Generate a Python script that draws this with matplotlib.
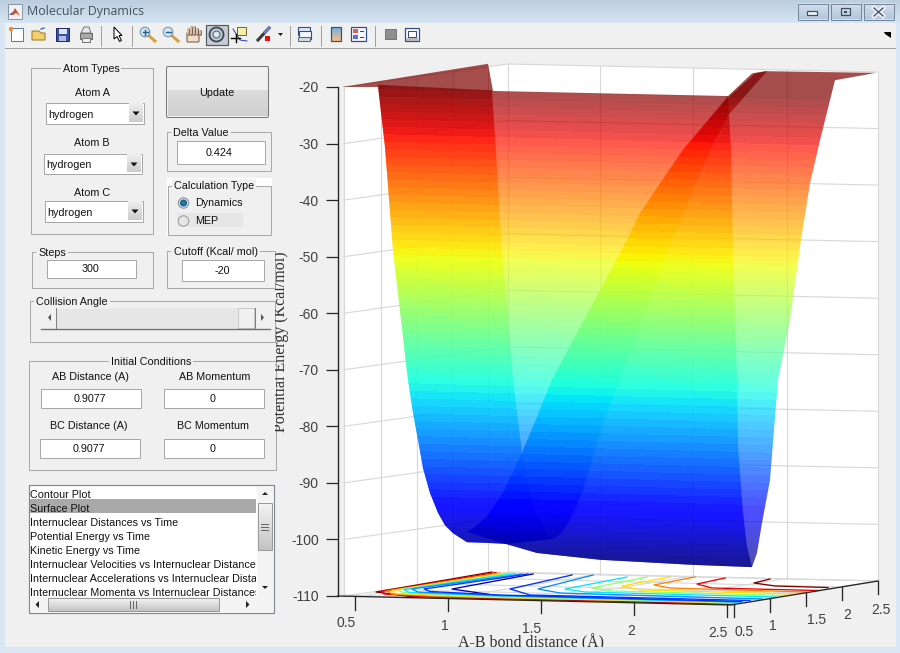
import numpy as np
import matplotlib
matplotlib.use("Agg")
import matplotlib.pyplot as plt
from matplotlib.patches import Rectangle, Polygon, Circle, FancyBboxPatch

plt.rcParams['axes.unicode_minus'] = False
plt.rcParams['font.family'] = ['Liberation Sans', 'DejaVu Sans']

# ---------- chart values ----------
energy_ticks = [-20, -30, -40, -50, -60, -70, -80, -90, -100, -110]
ab_tick_labels = ['0.5', '1', '1.5', '2', '2.5']
bc_tick_labels = ['0.5', '1', '1.5', '2', '2.5']
ab_tick_x = [355, 448, 541, 634, 727]
ab_tick_row = [597, 598.5, 600.5, 602, 604]
ab_label_xy = [(346, 623), (445, 626), (532, 629), (631, 631), (718, 633)]
bc_tick_x = [734, 770, 806, 842, 878]
bc_tick_row = [604, 599, 593, 587, 581]
bc_label_xy = [(744, 632), (773, 626), (817, 620), (847, 615), (881, 610)]

# Surface outlines: screen x and energy (kcal/mol)
rear_x = [378, 385, 393, 408, 413, 418, 423, 430, 438, 445, 453, 467, 485, 507, 537, 600, 693, 752, 757, 762, 770, 778, 790, 801, 810, 820, 835, 876, 765, 752, 728, 493, 488, 342]
rear_e = [-20, -30.6, -48.8, -71.8, -77.6, -82.4, -87.4, -91.8, -95.3, -97.5, -98.9, -100.5, -100.6, -100.8, -102.4, -103.6, -104.5, -104.9, -102.4, -97.1, -89.5, -71.8, -61.2, -47.1, -37, -29.4, -18.8, -17.5, -17.2, -17.6, -21.6, -20.7, -15.9, -20]
left_wall_x = [378, 385, 393, 408, 413, 418, 423, 430, 438, 445, 453, 467, 485, 507, 550, 533, 522, 513, 502, 497, 492]
left_wall_e = [-19.6, -30.6, -48.8, -71.8, -77.6, -82.4, -87.4, -91.8, -95.3, -97.5, -98.9, -100.5, -100.6, -100.8, -99.9, -94.3, -84.7, -71.8, -48.8, -34.2, -20.6]
right_wall_x = [728, 731, 733, 737, 738, 740, 743, 747, 752, 693, 600, 537, 507, 468, 487, 503, 522, 537, 552, 627, 640, 683]
right_wall_e = [-21.6, -31.1, -48.8, -71.8, -83.7, -88.3, -95.3, -101.3, -104.9, -104.5, -103.6, -102.4, -100.9, -98.7, -96, -91.8, -84.7, -78.4, -71.8, -47.1, -42.3, -31.1]
ridge_x = [468, 487, 503, 522, 537, 552, 627, 640, 683, 728, 755, 767, 728, 710, 668, 620, 603, 583, 570, 560, 553, 507]
ridge_e = [-98.7, -96, -91.8, -84.7, -78.4, -71.8, -47.1, -42.3, -31.1, -21.9, -17.6, -17.2, -25, -31.1, -48.8, -71.8, -79.4, -91.3, -96.6, -99.2, -99.9, -100.8]

# Floor contours: colour and (x, row) traces
contour_colors = ['#800000', '#ee0000', '#ff8000', '#ffe000', '#90ff70', '#00e8ff', '#0090ff', '#0030ff', '#0000b0',
                  '#800000', '#ee0000', '#ff8000', '#ffe000', '#90ff70', '#00e8ff', '#0090ff', '#0030ff']
contour_traces = [
    [(770, 579), (754, 583), (775, 586), (828, 587.5)],
    [(725, 578), (697, 584), (712, 588), (818, 590.5)],
    [(695, 577), (654, 585), (670, 588), (807, 592)],
    [(670, 577), (622, 586), (640, 590), (793, 594)],
    [(647, 577), (592, 588), (612, 591), (785, 595.5)],
    [(627, 577), (565, 589), (585, 592), (775, 597)],
    [(593, 575), (538, 589), (560, 593), (762, 599)],
    [(572, 575), (510, 589), (530, 595), (750, 600.5)],
    [(533, 574), (452, 589), (500, 596), (738, 602)],
    [(492, 572), (376, 592), (410, 596.5), (470, 598), (600, 601), (735, 604.5)],
    [(496, 572.5), (381, 591.5), (384, 594), (450, 598), (640, 601.5), (735, 604)],
    [(500, 573), (387, 591), (392, 594), (440, 596.5), (660, 601), (732, 603.5)],
    [(505, 573), (392, 590.5), (396, 593.5), (480, 597), (735, 603)],
    [(510, 573.5), (398, 590), (403, 592.5), (490, 596.5), (738, 602.5)],
    [(515, 573.5), (404, 589.5), (409, 592.5), (500, 596), (738, 602)],
    [(522, 574), (412, 589), (418, 592), (500, 595.5), (740, 602)],
    [(528, 574), (424, 589), (430, 591.5), (500, 595), (742, 601.5)],
]

# ---------- interface texts ----------
list_items = ['Contour Plot', 'Surface Plot', 'Internuclear Distances vs Time',
              'Potential Energy vs Time', 'Kinetic Energy vs Time',
              'Internuclear Velocities vs Internuclear Distances',
              'Internuclear Accelerations vs Internuclear Distances',
              'Internuclear Momenta vs Internuclear Distances']

W, H = 900, 653
BG = '#f0f0f0'
EDGE = '#a8a8a8'
FS = 7.75
fig = plt.figure(figsize=(W / 100, H / 100), dpi=100, facecolor=BG)
gui = fig.add_axes([0, 0, 1, 1], zorder=1)
gui.set_xlim(0, W)
gui.set_ylim(H, 0)
gui.axis('off')
PX = 0.72


def rect(x0, y0, x1, y1, fc='none', ec='none', lw=1.0, z=2, ax=gui):
    p = Rectangle((x0, y0), x1 - x0, y1 - y0, facecolor=fc, edgecolor=ec, linewidth=lw * PX, zorder=z)
    ax.add_patch(p)
    return p


def txt(x, y, s, ha='center', fs=FS, color='#111111', z=6, **kw):
    return gui.text(x, y, s, ha=ha, va='center', fontsize=fs, color=color, zorder=z, **kw)


def grad(x0, y0, x1, y1, c0, c1, z=2, n=32):
    c0 = np.array(matplotlib.colors.to_rgb(c0))
    c1 = np.array(matplotlib.colors.to_rgb(c1))
    t = np.linspace(0, 1, n)[:, None, None]
    im = t * c1[None, None, :] + (1 - t) * c0[None, None, :]
    gui.imshow(im, extent=(x0, x1, y1, y0), aspect='auto', zorder=z, interpolation='bilinear')


def panel(x0, y0, x1, y1, title, tx, center=False, fill=False):
    rect(x0, y0, x1, y1, ec=EDGE, fc=BG if fill else 'none', z=3)
    gui.text(tx, y0 + 1, title, ha='center' if center else 'left', va='center', fontsize=FS, color='#111111',
             zorder=5, bbox=dict(facecolor=BG, edgecolor='none', pad=1.5))


def edit(x0, y0, x1, y1, s, cx):
    rect(x0, y0, x1, y1, fc='white', ec=EDGE, z=4)
    txt(cx, (y0 + y1) / 2 + .5, s)


def popup(x0, y0, x1, y1, s):
    rect(x0, y0, x1, y1, fc='white', ec=EDGE, z=4)
    grad(x1 - 15, y0 + 1, x1 - 1, y1 - 1, '#f0f0f0', '#cccccc', z=4.5)
    gui.add_patch(Polygon([(x1 - 11, y0 + 9), (x1 - 4, y0 + 9), (x1 - 7.5, y0 + 13)], fc='#111111', ec='none', zorder=5))
    txt(x0 + 2.5, (y0 + y1) / 2 + 1.5, s, ha='left')


# window frame ----------------------------------------------------------
rect(0, 0, W, H, fc='#d9e6f3', z=0)
grad(0, 0, W, 23, '#bccddd', '#d7e5f3', z=0.5)
rect(5, 23, 896, 647, fc=BG, z=1)
rect(5, 48, 896, 49, fc='#a3a3a3', z=1.2)
rect(8, 4, 22, 19, fc='#eef2f7', ec='#8a97a5', z=2)
gui.add_patch(Polygon([(9, 15), (13, 12), (15, 8), (20, 16), (16, 13), (13, 15)], fc='#d94a1e', ec='none', zorder=3))
gui.add_patch(Polygon([(9, 15), (13, 12), (14, 14)], fc='#2f6fc0', ec='none', zorder=3.1))
txt(27, 12, 'Molecular Dynamics', ha='left', fs=8.9, color='#45525f', family=['Open Sans', 'DejaVu Sans'])
for x0, x1 in [(797.5, 827.5), (830.5, 860.5), (863.5, 893.5)]:
    grad(x0, 3.5, x1, 19.5, '#d3e0ee', '#b4c6dc', z=2)
    rect(x0, 3.5, x1, 19.5, ec='#76879b', z=3)
rect(807, 11, 817, 15, fc='#eef3f8', ec='#3f4d5f', lw=1.2, z=4)
rect(841, 8, 850, 15, fc='none', ec='#3f4d5f', lw=1.2, z=4)
rect(844, 10.5, 847, 12.5, fc='#3f4d5f', z=4)
gui.plot([874, 883], [8, 16], color='#f4f6f9', lw=3.2, zorder=4)
gui.plot([883, 874], [8, 16], color='#f4f6f9', lw=3.2, zorder=4)
gui.plot([874, 883], [8, 16], color='#45536a', lw=1, zorder=5)
gui.plot([883, 874], [8, 16], color='#45536a', lw=1, zorder=5)

# toolbar ---------------------------------------------------------------
for xs in [100.5, 131.5, 289.5, 320.5, 374.5]:
    gui.plot([xs, xs], [26, 46], color='#a0a0a0', lw=PX, zorder=3)
rect(205.5, 24.5, 227.5, 44.5, fc='#c7ccd2', ec='#55595e', lw=1.2, z=2)
# new
rect(11, 28, 23, 41, fc='white', ec='#4f7fb0', z=3)
gui.add_patch(Circle((11, 29), 2.2, fc='#f08a30', ec='none', zorder=4))
# open
gui.add_patch(Polygon([(32, 40), (32, 31), (39, 31), (41, 33), (45, 33), (45, 40)], fc='#f0cf6c', ec='#9a7a2a', lw=PX, zorder=3))
gui.plot([41, 44], [29, 28], color='#3a6fb0', lw=1, zorder=4)
# save
rect(56, 28, 69, 41, fc='#3c50a8', ec='#1f2c70', z=3)
rect(58.5, 28.5, 66.5, 33.5, fc='#dfe5f5', z=4)
rect(59, 36, 66, 41, fc='#b4bede', z=4)
# print
rect(80, 33, 92, 39, fc='#a8a8a8', ec='#666666', z=3)
gui.add_patch(Polygon([(81, 33), (84, 27), (89, 27), (91, 33)], fc='#e8e8e8', ec='#777777', lw=PX, zorder=3.1))
rect(82, 38, 90, 42, fc='#efefef', ec='#777777', z=4)
# pointer
gui.add_patch(Polygon([(114, 27), (114, 39), (117, 36.5), (119.5, 41.5), (121.5, 40.5), (119, 35.5), (122, 35.5)], fc='white', ec='black', lw=1 * PX, zorder=3))
# zoom in, out
for cx, sign in [(145, '+'), (168, '-')]:
    gui.plot([cx + 3, cx + 10], [35, 41], color='#d8a040', lw=2.2, zorder=3)
    gui.add_patch(Circle((cx, 32), 4.8, fc='#cfe6f6', ec='#6f8fa8', lw=PX, zorder=4))
    gui.plot([cx - 2.5, cx + 2.5], [32, 32], color='#2a5d90', lw=1, zorder=5)
    if sign == '+':
        gui.plot([cx, cx], [29.5, 34.5], color='#2a5d90', lw=1, zorder=5)
# hand
gui.add_patch(FancyBboxPatch((188, 33), 10, 8, boxstyle='round,pad=1', fc='#f6dcc4', ec='#6a5a4a', lw=PX, zorder=3))
for fx, top in [(188, 29), (191, 27), (194, 27), (197, 29), (200, 31)]:
    gui.plot([fx, fx], [34, top], color='#6a5a4a', lw=2, zorder=3.5, solid_capstyle='round')
    gui.plot([fx, fx], [34, top], color='#f6dcc4', lw=1.1, zorder=3.6, solid_capstyle='round')
# rotate
gui.add_patch(Circle((216.5, 34.5), 7, fc='none', ec='#3a4a5a', lw=1.3, zorder=4))
gui.add_patch(Circle((216.5, 34.5), 3.5, fc='#dfe6ee', ec='#3a6080', lw=PX, zorder=4))
# data cursor
rect(237, 27, 246, 35, fc='#f5f0a8', ec='#6a6a3a', z=3)
gui.plot([231, 240], [38, 38], color='black', lw=1, zorder=4)
gui.plot([235.5, 235.5], [34, 42], color='black', lw=1, zorder=4)
gui.plot([233, 240, 247], [29, 40, 41], color='#2040c0', lw=PX, zorder=3)
# brush
gui.plot([258, 269], [40, 28], color='#3a3a3a', lw=2.2, zorder=3)
gui.plot([265, 269], [32, 28], color='#6a80c0', lw=2.2, zorder=3.1)
rect(265, 36, 270, 41, fc='#ee1010', z=4)
gui.add_patch(Polygon([(278, 33), (283, 33), (280.5, 36)], fc='#222222', ec='none', zorder=3))
# link
rect(298, 27, 310, 35, fc='#dce7f5', ec='#2f4f86', lw=1.1, z=3)
rect(299, 31, 311, 39, fc='#f5f7fb', ec='#2f4f86', lw=1.1, z=3.1)
gui.add_patch(FancyBboxPatch((299, 38), 11, 3, boxstyle='round,pad=0.5', fc='#cfd8e3', ec='#52647c', lw=PX, zorder=3.2))
# colorbar
rect(331, 27, 341, 41, fc='none', ec='#2f4f86', lw=1.2, z=4)
grad(331, 27, 341, 41, '#70b0e8', '#f8c080', z=3)
# legend
rect(351, 27, 366, 41, fc='#f5f7fb', ec='#2f4f86', lw=1.2, z=3)
rect(353, 29, 358, 33, fc='#e06060', z=4)
rect(353, 35, 358, 39, fc='#6070d0', z=4)
rect(360, 30.5, 364, 31.5, fc='#444444', z=4)
rect(360, 36.5, 364, 37.5, fc='#444444', z=4)
# hide, frame
rect(385, 29, 396, 39, fc='#8f8f8f', ec='#777777', z=3)
rect(405, 28, 419, 41, fc='#f5f7fb', ec='#2f4f86', lw=1.2, z=3)
rect(408, 30.5, 416, 37, fc='white', ec='#2f4f86', z=4)
rect(406, 38, 418, 40.5, fc='#b8b8b8', z=4)
gui.add_patch(Polygon([(884, 32), (891, 32), (891, 38), (888, 36), (885, 34)], fc='black', ec='none', zorder=3))

# controls --------------------------------------------------------------
panel(30.5, 67.5, 153, 234, 'Atom Types', 91, center=True)
txt(92, 92.5, 'Atom A')
popup(45.5, 102.5, 143.5, 123.5, 'hydrogen')
txt(92, 142.5, 'Atom B')
popup(43.5, 153.5, 141.5, 173.5, 'hydrogen')
txt(92, 193.5, 'Atom C')
popup(44.5, 200.5, 142.5, 221.5, 'hydrogen')

gui.add_patch(FancyBboxPatch((168, 68), 99, 48, boxstyle='round,pad=1.5', fc='none', ec='#777777', lw=PX, zorder=4))
rect(167.5, 67.5, 268, 90, fc='#f0f0f0', z=2)
grad(167.5, 90, 268, 116, '#dcdcdc', '#cfcfcf', z=2)
txt(217, 92.5, 'Update')

panel(166.5, 131.5, 271, 171, 'Delta Value', 173)
edit(176.5, 140.5, 264.5, 163.5, '0.424', 219.5)

rect(167, 178, 272, 236, fc='white', z=2)
rect(168, 186, 270.5, 234.5, fc=BG, ec=EDGE, z=3)
gui.text(174, 186, 'Calculation Type', ha='left', va='center', fontsize=FS, color='#111111', zorder=5,
         bbox=dict(facecolor=BG, edgecolor='none', pad=1.5))
rect(177, 213, 243, 227, fc='#e6e6e6', z=4)
gui.add_patch(Circle((183.5, 203), 5.2, fc='#dfe6ee', ec='#7f8a96', lw=PX, zorder=5))
gui.add_patch(Circle((183.5, 203), 3, fc='#1f78a8', ec='#125070', lw=PX, zorder=6))
gui.add_patch(Circle((183.5, 221), 5.2, fc='#e6e6e6', ec='#9a9a9a', lw=PX, zorder=5))
txt(195, 203, 'Dynamics', ha='left')
txt(195, 221, 'MEP', ha='left')

panel(31.5, 252, 152.5, 288, 'Steps', 38)
edit(46.5, 259.5, 135.5, 277.5, '300', 90)
panel(166.5, 251, 275, 288, 'Cutoff (Kcal/ mol)', 173.5)
edit(181.5, 259.5, 264, 280.5, '-20', 222)

panel(30, 301, 275, 342, 'Collision Angle', 36)
rect(41, 308, 270, 328, fc='#e6e6e6', z=4)
rect(41, 308, 56, 328, fc=BG, z=4.2)
rect(238, 308, 254, 328, fc=BG, ec='#c8c8c8', z=4.2)
rect(255, 308, 270, 328, fc=BG, z=4.2)
gui.plot([41, 270], [328.5, 328.5], color='#707070', lw=1, zorder=5)
gui.plot([56, 56], [308, 328], color='#808080', lw=PX, zorder=5)
gui.plot([254.5, 254.5], [308, 328], color='#808080', lw=PX, zorder=5)
gui.add_patch(Polygon([(51, 314), (51, 321), (48, 317.5)], fc='#555555', ec='none', zorder=6))
gui.add_patch(Polygon([(261, 314), (261, 321), (264, 317.5)], fc='#555555', ec='none', zorder=6))

panel(28.5, 361, 275.5, 470, 'Initial Conditions', 151, center=True)
txt(90, 376.5, 'AB Distance (A)')
txt(215, 376.5, 'AB Momentum')
edit(40.5, 389, 140.5, 407.5, '0.9077', 90)
edit(163.5, 389, 263.5, 407.5, '0', 213)
txt(89, 426, 'BC Distance (A)')
txt(213, 426, 'BC Momentum')
edit(39.5, 438.5, 139.5, 458, '0.9077', 89)
edit(163.5, 438.5, 263.5, 458, '0', 213)

# list box
rect(28.5, 484.5, 273.5, 613, fc='white', ec='#808890', lw=1.2, z=3)
rect(29.5, 499, 256, 513, fc='#a9a9a9', z=3.5)
clip_list = Rectangle((29, 485), 227, 112, transform=gui.transData)
for i, item in enumerate(list_items):
    t = txt(30, 494.5 + 14 * i, item, ha='left')
    t.set_clip_on(True)
    t.set_clip_path(clip_list)
rect(257, 485.5, 272.5, 596.5, fc='#f4f4f4', z=3.6)
grad(258, 503, 272, 550, '#f4f4f4', '#c4c4c4', z=3.7)
rect(258, 503, 272, 550, ec='#9a9a9a', z=3.8)
for yy in (524, 527, 530):
    gui.plot([261, 268], [yy, yy], color='#666666', lw=PX, zorder=4)
gui.add_patch(Polygon([(262, 495), (268, 495), (265, 492)], fc='#222222', ec='none', zorder=4))
gui.add_patch(Polygon([(262, 586), (268, 586), (265, 589)], fc='#222222', ec='none', zorder=4))
rect(29.5, 597, 272.5, 612, fc='#f4f4f4', z=3.6)
grad(48, 598, 219, 611, '#f4f4f4', '#c4c4c4', z=3.7)
rect(48, 598, 219, 611, ec='#9a9a9a', z=3.8)
for xx in (130, 133, 136):
    gui.plot([xx, xx], [601, 608], color='#666666', lw=PX, zorder=4)
gui.add_patch(Polygon([(39, 601), (39, 608), (35.5, 604.5)], fc='#222222', ec='none', zorder=4))
gui.add_patch(Polygon([(246, 601), (246, 608), (249.5, 604.5)], fc='#222222', ec='none', zorder=4))

# ---------- chart: x is screen column, y is energy ----------
PX_PER_UNIT = 5.655


def E(row):
    return -20 - (np.asarray(row, dtype=float) - 87) / PX_PER_UNIT


ax = fig.add_axes([0, 0, 1, 1], zorder=2)
ax.patch.set_alpha(0)
ax.set_xlim(0, W)
ax.set_ylim(E(H), E(0))
for s in ('top', 'right', 'bottom'):
    ax.spines[s].set_visible(False)
ax.spines['left'].set_position(('data', 337.5))
ax.spines['left'].set_bounds(-110, -20)
ax.spines['left'].set_color('#262626')
ax.spines['left'].set_linewidth(1.0)
ax.set_xticks([])
ax.set_yticks(energy_ticks)
ax.tick_params(axis='y', direction='out', length=9, width=0.9, color='#262626', pad=4.5,
               labelsize=10, labelcolor='#404040')

# plot box
GRID = '#d9d9d9'
corner = [(344, E(87)), (508, E(64)), (878, E(72)), (878, E(581)), (731, E(604)), (344, E(595))]
ax.add_patch(Polygon(corner, fc='white', ec='none', zorder=0.5))
for level in energy_ticks:
    ax.plot([344, 508, 878], [level, level + 23 / PX_PER_UNIT, level + 15 / PX_PER_UNIT], color=GRID, lw=0.85, zorder=1)
for xv in [344, 381, 417, 453, 488]:
    top = -20 + 23 / PX_PER_UNIT * (xv - 344) / 164
    bot = -110 + 23 / PX_PER_UNIT * (xv - 344) / 164
    ax.plot([xv, xv], [top, bot], color=GRID, lw=0.85, zorder=1)
for xv in [508, 600, 693, 787, 878]:
    slope = (xv - 508) / 370 * 8 / PX_PER_UNIT
    ax.plot([xv, xv], [-20 + 23 / PX_PER_UNIT - slope, -110 + 23 / PX_PER_UNIT - slope], color=GRID, lw=0.85, zorder=1)
# floor grid
for xa, ra, xb, rb in zip(ab_tick_x, ab_tick_row, [508, 600, 693, 787, 878], [572, 574, 576, 578.5, 581]):
    ax.plot([xa, xb], E([ra, rb]), color=GRID, lw=0.85, zorder=1)
for j, (xb, rb) in enumerate(zip(bc_tick_x, bc_tick_row)):
    ax.plot([344 + 41 * j, xb], E([595 - 5.75 * j, rb]), color=GRID, lw=0.85, zorder=1)

# surface: 64-step jet bands, tilted a little as in the view
n_steps = 64
jet = plt.get_cmap('jet').resampled(n_steps)
e_edges = np.linspace(-105.2, -20, n_steps + 1)
col_centres = np.arange(300, 900) + 0.5
row_centres = np.arange(0, H) + 0.5
cols, rows_grid = np.meshgrid(col_centres, row_centres)
tilted = E(rows_grid) + (cols - 600) * 0.0045
band_index = np.clip(np.digitize(tilted, e_edges) - 1, 0, n_steps - 1)
band_rgb = jet(band_index)[:, :, :3]


def sheet(xs, es, z, alpha=0.7):
    im = ax.imshow(band_rgb, extent=(300, 900, E(H), E(0)), aspect='auto', interpolation='nearest',
                   alpha=alpha, zorder=z)
    im.set_clip_path(Polygon(list(zip(xs, es)), transform=ax.transData))


sheet(rear_x, rear_e, 2)
sheet(left_wall_x, left_wall_e, 2.1)
sheet(right_wall_x, right_wall_e, 2.2)
sheet(ridge_x, ridge_e, 2.3)

# floor contours
for color, trace in zip(contour_colors, contour_traces):
    xs, rows = zip(*trace)
    ax.plot(xs, E(rows), color=color, lw=0.95, zorder=3, solid_joinstyle='round')

# lower axes
ax.plot([337.5, 731, 878], E([596, 605, 581]), color='#262626', lw=0.95, zorder=4)
for xs, rows in ((ab_tick_x, ab_tick_row), (bc_tick_x, bc_tick_row)):
    for xv, r in zip(xs, rows):
        ax.plot([xv, xv], E([r, r + 12.5]), color='#262626', lw=0.95, zorder=4)
for labels, xy in ((ab_tick_labels, ab_label_xy), (bc_tick_labels, bc_label_xy)):
    for s, (xv, r) in zip(labels, xy):
        ax.text(xv, E(r), s, ha='center', va='center', fontsize=10, color='#404040', zorder=5)

serif = ['Liberation Serif', 'DejaVu Serif']
xl = ax.text(531, E(642.5), 'A-B bond distance (Å)', ha='center', va='center', fontsize=11.5, color='#303030',
             family=serif, zorder=5)
xl.set_clip_on(True)
xl.set_clip_path(Rectangle((300, E(647)), 500, 40, transform=ax.transData))
yl = ax.text(281, E(342), 'Potential Energy (Kcal/mol)', rotation=90, ha='center', va='center', fontsize=11.5,
             color='#303030', family=serif, zorder=5)
yl.set_clip_on(True)
yl.set_clip_path(Rectangle((275, E(460)), 30, 80, transform=ax.transData))

fig.savefig('out.png', dpi=100, facecolor=BG)
